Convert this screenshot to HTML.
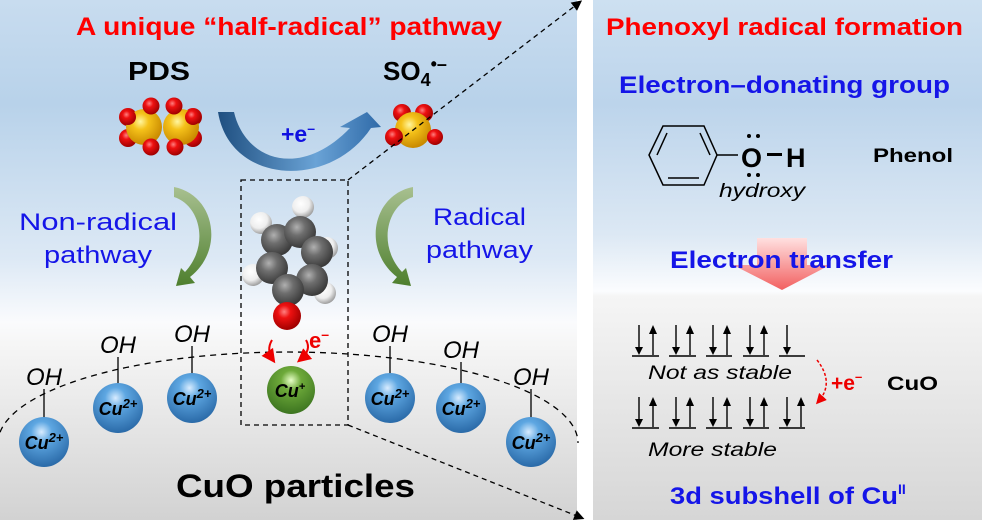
<!DOCTYPE html>
<html><head><meta charset="utf-8"><style>
html,body{margin:0;padding:0;background:#fff;}
svg{display:block;font-family:"Liberation Sans",sans-serif;}
</style></head><body>
<svg width="982" height="520" viewBox="0 0 982 520" xmlns="http://www.w3.org/2000/svg">
<defs>
<linearGradient id="bgL" x1="0" y1="0" x2="0" y2="1">
<stop offset="0" stop-color="#c8dcef"/><stop offset="0.2" stop-color="#b8d2ea"/>
<stop offset="0.5" stop-color="#dde9f5"/><stop offset="0.62" stop-color="#fafbfd"/>
<stop offset="0.66" stop-color="#f6f6f6"/><stop offset="1" stop-color="#d2d2d2"/>
</linearGradient>
<linearGradient id="bgR" x1="0" y1="0" x2="0" y2="1">
<stop offset="0" stop-color="#cde0f1"/><stop offset="0.2" stop-color="#bcd4eb"/>
<stop offset="0.45" stop-color="#dce8f4"/><stop offset="0.56" stop-color="#fbfcfe"/>
<stop offset="0.57" stop-color="#f5f5f5"/><stop offset="1" stop-color="#d6d6d6"/>
</linearGradient>
<radialGradient id="gY" cx="0.4" cy="0.35" r="0.65"><stop offset="0" stop-color="#fff6a0"/><stop offset="0.35" stop-color="#f5c21a"/><stop offset="1" stop-color="#c98a00"/></radialGradient>
<radialGradient id="gR" cx="0.4" cy="0.35" r="0.65"><stop offset="0" stop-color="#ff8080"/><stop offset="0.35" stop-color="#ee1111"/><stop offset="1" stop-color="#a00000"/></radialGradient>
<radialGradient id="gG" cx="0.4" cy="0.35" r="0.65"><stop offset="0" stop-color="#b0b0b0"/><stop offset="0.4" stop-color="#6e6e6e"/><stop offset="1" stop-color="#3a3a3a"/></radialGradient>
<radialGradient id="gH" cx="0.4" cy="0.35" r="0.65"><stop offset="0" stop-color="#ffffff"/><stop offset="0.6" stop-color="#eeeeee"/><stop offset="1" stop-color="#a0a0a0"/></radialGradient>
<radialGradient id="gB" cx="0.45" cy="0.3" r="0.7"><stop offset="0" stop-color="#d8ecff"/><stop offset="0.3" stop-color="#5ea7e2"/><stop offset="1" stop-color="#2a6aa8"/></radialGradient>
<radialGradient id="gC" cx="0.5" cy="0.3" r="0.7"><stop offset="0" stop-color="#e8ffc8"/><stop offset="0.3" stop-color="#6eaa3a"/><stop offset="1" stop-color="#3c7420"/></radialGradient>
<linearGradient id="gArr" x1="0" y1="0" x2="1" y2="0"><stop offset="0" stop-color="#1f4f80"/><stop offset="0.6" stop-color="#6aa3d6"/><stop offset="1" stop-color="#2f6aa8"/></linearGradient>
<linearGradient id="gGreen" x1="0" y1="0" x2="0" y2="1"><stop offset="0" stop-color="#a8c090"/><stop offset="1" stop-color="#4e7f2e"/></linearGradient>
<linearGradient id="gPink" x1="0" y1="0" x2="0" y2="1"><stop offset="0" stop-color="#ffe0e0"/><stop offset="1" stop-color="#f26060"/></linearGradient>
<marker id="ah" markerWidth="8" markerHeight="8" refX="6" refY="4" orient="auto"><path d="M0,0 L8,4 L0,8 z" fill="#000"/></marker>
<marker id="ahr" markerWidth="7" markerHeight="7" refX="5" refY="3.5" orient="auto"><path d="M0,0 L7,3.5 L0,7 z" fill="#e00"/></marker>
</defs>
<rect x="0" y="0" width="577" height="520" fill="url(#bgL)"/>
<rect x="593" y="0" width="389" height="520" fill="url(#bgR)"/>

<text x="289" y="35" text-anchor="middle" font-size="25" font-weight="bold" fill="#f00" textLength="426" lengthAdjust="spacingAndGlyphs">A unique “half-radical” pathway</text>
<text x="128" y="80" font-size="26" font-weight="bold" textLength="62" lengthAdjust="spacingAndGlyphs">PDS</text>
<text x="383" y="80" font-size="26" font-weight="bold">SO<tspan font-size="18" dy="6">4</tspan><tspan font-size="18" dy="-16">•–</tspan></text>

<g>
<circle cx="128" cy="117" r="9" fill="url(#gR)"/><circle cx="193" cy="117" r="9" fill="url(#gR)"/>
<circle cx="128" cy="138" r="9" fill="url(#gR)"/><circle cx="193" cy="138" r="9" fill="url(#gR)"/>
<circle cx="144" cy="127" r="18" fill="url(#gY)"/><circle cx="181" cy="127" r="18" fill="url(#gY)"/>
<circle cx="128" cy="117" r="8" fill="url(#gR)"/><circle cx="193" cy="117" r="8" fill="url(#gR)"/>
<circle cx="151" cy="106" r="8.5" fill="url(#gR)"/><circle cx="174" cy="106" r="8.5" fill="url(#gR)"/>
<circle cx="151" cy="147" r="8.5" fill="url(#gR)"/><circle cx="175" cy="147" r="8.5" fill="url(#gR)"/>
</g>
<path d="M218,112 L234,112 C245,160 300,180 350,128 L340,127 L367,112 L381,127 L371,128 C330,190 230,185 218,112 Z" fill="url(#gArr)"/>
<text x="281" y="142" font-size="23" font-weight="bold" fill="#1010e0">+e<tspan font-size="14" dy="-9">–</tspan></text>
<circle cx="402" cy="113" r="9" fill="url(#gR)"/><circle cx="424" cy="113" r="9" fill="url(#gR)"/>
<circle cx="413" cy="130" r="18" fill="url(#gY)"/>
<circle cx="394" cy="137" r="9" fill="url(#gR)"/><circle cx="435" cy="137" r="8" fill="url(#gR)"/>

<line x1="348" y1="180" x2="580" y2="2" stroke="#000" stroke-width="1.3" stroke-dasharray="5,4" marker-end="url(#ah)"/>
<line x1="348" y1="425" x2="582" y2="518" stroke="#000" stroke-width="1.3" stroke-dasharray="5,4" marker-end="url(#ah)"/>
<rect x="241" y="180" width="107" height="245" fill="none" stroke="#000" stroke-width="1.3" stroke-dasharray="5,4"/>
<path d="M-2,443 A290,91 0 0 1 578,443" fill="none" stroke="#000" stroke-width="1.3" stroke-dasharray="6,5"/>

<path d="M174,187 C215,195 225,250 190,277 L195,283 L176,286 L181,268 L185,272 C210,245 200,205 174,197 Z" fill="url(#gGreen)"/>
<path d="M413,187 C372,195 362,250 397,277 L392,283 L411,286 L406,268 L402,272 C377,245 387,205 413,197 Z" fill="url(#gGreen)"/>
<g font-size="24" fill="#1515e8">
<text x="19" y="230" textLength="158" lengthAdjust="spacingAndGlyphs">Non-radical</text>
<text x="44" y="263" textLength="108" lengthAdjust="spacingAndGlyphs">pathway</text>
<text x="433" y="225" textLength="93" lengthAdjust="spacingAndGlyphs">Radical</text>
<text x="426" y="258" textLength="107" lengthAdjust="spacingAndGlyphs">pathway</text>
</g>

<g>
<circle cx="261" cy="223" r="11" fill="url(#gH)"/>
<circle cx="303" cy="207" r="11" fill="url(#gH)"/>
<circle cx="253" cy="275" r="11" fill="url(#gH)"/>
<circle cx="327" cy="248" r="11" fill="url(#gH)"/>
<circle cx="277" cy="240" r="16" fill="url(#gG)"/>
<circle cx="300" cy="232" r="16" fill="url(#gG)"/>
<circle cx="272" cy="268" r="16" fill="url(#gG)"/>
<circle cx="317" cy="252" r="16" fill="url(#gG)"/>
<circle cx="325" cy="293" r="11" fill="url(#gH)"/>
<circle cx="312" cy="280" r="16" fill="url(#gG)"/>
<circle cx="288" cy="290" r="16" fill="url(#gG)"/>
<circle cx="287" cy="316" r="14" fill="url(#gR)"/>
</g>
<path d="M272,340 Q266,350 273,360" fill="none" stroke="#e00" stroke-width="2" marker-end="url(#ahr)"/>
<path d="M306,340 Q312,350 300,360" fill="none" stroke="#e00" stroke-width="2" marker-end="url(#ahr)"/>
<text x="309" y="348" font-size="22" font-weight="bold" fill="#e00">e<tspan font-size="14" dy="-9">–</tspan></text>

<g stroke="#000" stroke-width="1.3">
<line x1="44" y1="389" x2="44" y2="420"/><line x1="118" y1="357" x2="118" y2="386"/>
<line x1="192" y1="346" x2="192" y2="376"/><line x1="390" y1="346" x2="390" y2="376"/>
<line x1="461" y1="362" x2="461" y2="386"/><line x1="531" y1="389" x2="531" y2="420"/>
</g>
<g font-size="24" font-style="italic">
<text x="44" y="385" text-anchor="middle">OH</text><text x="118" y="353" text-anchor="middle">OH</text>
<text x="192" y="342" text-anchor="middle">OH</text><text x="390" y="342" text-anchor="middle">OH</text>
<text x="461" y="358" text-anchor="middle">OH</text><text x="531" y="385" text-anchor="middle">OH</text>
</g>
<circle cx="44" cy="442" r="25" fill="url(#gB)"/><circle cx="118" cy="408" r="25" fill="url(#gB)"/>
<circle cx="192" cy="398" r="25" fill="url(#gB)"/><circle cx="390" cy="398" r="25" fill="url(#gB)"/>
<circle cx="461" cy="408" r="25" fill="url(#gB)"/><circle cx="531" cy="442" r="25" fill="url(#gB)"/>
<circle cx="291" cy="390" r="24" fill="url(#gC)"/>
<g font-size="18" font-style="italic" font-weight="bold" text-anchor="middle">
<text x="44" y="449">Cu<tspan font-size="13" dy="-7">2+</tspan></text>
<text x="118" y="415">Cu<tspan font-size="13" dy="-7">2+</tspan></text>
<text x="192" y="405">Cu<tspan font-size="13" dy="-7">2+</tspan></text>
<text x="390" y="405">Cu<tspan font-size="13" dy="-7">2+</tspan></text>
<text x="461" y="415">Cu<tspan font-size="13" dy="-7">2+</tspan></text>
<text x="531" y="449">Cu<tspan font-size="13" dy="-7">2+</tspan></text>
<text x="290" y="397">Cu<tspan font-size="11" dy="-7">+</tspan></text>
</g>
<text x="176" y="497" font-size="32" font-weight="bold" textLength="239" lengthAdjust="spacingAndGlyphs">CuO particles</text>

<text x="606" y="35" font-size="24" font-weight="bold" fill="#f00" textLength="357" lengthAdjust="spacingAndGlyphs">Phenoxyl radical formation</text>
<text x="619" y="93" font-size="24" font-weight="bold" fill="#1515e8" textLength="331" lengthAdjust="spacingAndGlyphs">Electron–donating group</text>
<g stroke="#000" stroke-width="1.5" fill="none">
<path d="M663,126 L704,126 L717,155 L704,185 L663,185 L649,155 Z"/>
<line x1="667" y1="133" x2="657" y2="155"/><line x1="700" y1="133" x2="710" y2="155"/><line x1="668" y1="178" x2="699" y2="178"/>
<line x1="717" y1="155" x2="738" y2="155"/>
</g>
<text x="741" y="167" font-size="27" font-weight="bold">O</text>
<rect x="767" y="153" width="15" height="3" fill="#000"/>
<text x="786" y="167" font-size="27" font-weight="bold">H</text>
<g fill="#000"><circle cx="749" cy="136" r="2"/><circle cx="758" cy="136" r="2"/><circle cx="749" cy="175" r="2"/><circle cx="758" cy="175" r="2"/></g>
<text x="719" y="197" font-size="19" font-style="italic" textLength="86" lengthAdjust="spacingAndGlyphs">hydroxy</text>
<text x="873" y="162" font-size="19" font-weight="bold" textLength="80" lengthAdjust="spacingAndGlyphs">Phenol</text>
<path d="M757,238 L807,238 L807,265 L830,265 L782,290 L733,265 L757,265 Z" fill="url(#gPink)"/>
<text x="670" y="268" font-size="24" font-weight="bold" fill="#1515e8" textLength="223" lengthAdjust="spacingAndGlyphs">Electron transfer</text>

<g stroke="#000" stroke-width="1.5">
<line x1="632" y1="356" x2="659" y2="356"/><line x1="669" y1="356" x2="696" y2="356"/><line x1="706" y1="356" x2="732" y2="356"/><line x1="743" y1="356" x2="769" y2="356"/><line x1="779" y1="356" x2="805" y2="356"/>
<line x1="632" y1="428" x2="659" y2="428"/><line x1="669" y1="428" x2="696" y2="428"/><line x1="706" y1="428" x2="732" y2="428"/><line x1="743" y1="428" x2="769" y2="428"/><line x1="779" y1="428" x2="805" y2="428"/>
</g>
<g stroke="#000" stroke-width="1.4">
<line x1="639" y1="325" x2="639" y2="350"/><line x1="653" y1="355" x2="653" y2="331"/>
<line x1="676" y1="325" x2="676" y2="350"/><line x1="690" y1="355" x2="690" y2="331"/>
<line x1="713" y1="325" x2="713" y2="350"/><line x1="727" y1="355" x2="727" y2="331"/>
<line x1="750" y1="325" x2="750" y2="350"/><line x1="764" y1="355" x2="764" y2="331"/>
<line x1="787" y1="325" x2="787" y2="350"/>
</g>
<g fill="#000">
<path d="M635,347 L643,347 L639,355 Z"/><path d="M649,334 L657,334 L653,325 Z"/>
<path d="M672,347 L680,347 L676,355 Z"/><path d="M686,334 L694,334 L690,325 Z"/>
<path d="M709,347 L717,347 L713,355 Z"/><path d="M723,334 L731,334 L727,325 Z"/>
<path d="M746,347 L754,347 L750,355 Z"/><path d="M760,334 L768,334 L764,325 Z"/>
<path d="M783,347 L791,347 L787,355 Z"/>
</g>
<g stroke="#000" stroke-width="1.4">
<line x1="639" y1="397" x2="639" y2="422"/><line x1="653" y1="427" x2="653" y2="403"/>
<line x1="676" y1="397" x2="676" y2="422"/><line x1="690" y1="427" x2="690" y2="403"/>
<line x1="713" y1="397" x2="713" y2="422"/><line x1="727" y1="427" x2="727" y2="403"/>
<line x1="750" y1="397" x2="750" y2="422"/><line x1="764" y1="427" x2="764" y2="403"/>
<line x1="787" y1="397" x2="787" y2="422"/><line x1="801" y1="427" x2="801" y2="403"/>
</g>
<g fill="#000">
<path d="M635,419 L643,419 L639,427 Z"/><path d="M649,406 L657,406 L653,397 Z"/>
<path d="M672,419 L680,419 L676,427 Z"/><path d="M686,406 L694,406 L690,397 Z"/>
<path d="M709,419 L717,419 L713,427 Z"/><path d="M723,406 L731,406 L727,397 Z"/>
<path d="M746,419 L754,419 L750,427 Z"/><path d="M760,406 L768,406 L764,397 Z"/>
<path d="M783,419 L791,419 L787,427 Z"/><path d="M797,406 L805,406 L801,397 Z"/>
</g>
<text x="648" y="379" font-size="19" font-style="italic" textLength="144" lengthAdjust="spacingAndGlyphs">Not as stable</text>
<text x="648" y="456" font-size="19" font-style="italic" textLength="129" lengthAdjust="spacingAndGlyphs">More stable</text>
<path d="M817,360 Q835,383 818,402" fill="none" stroke="#e00" stroke-width="1.5" stroke-dasharray="3,2" marker-end="url(#ahr)"/>
<text x="831" y="390" font-size="21" font-weight="bold" fill="#e00">+e<tspan font-size="13" dy="-9">–</tspan></text>
<text x="887" y="390" font-size="19" font-weight="bold" textLength="51" lengthAdjust="spacingAndGlyphs">CuO</text>
<text x="670" y="504" font-size="24" font-weight="bold" fill="#1515e8"><tspan textLength="228" lengthAdjust="spacingAndGlyphs">3d subshell of Cu</tspan><tspan font-size="14" dy="-10">II</tspan></text>
</svg>
</body></html>
